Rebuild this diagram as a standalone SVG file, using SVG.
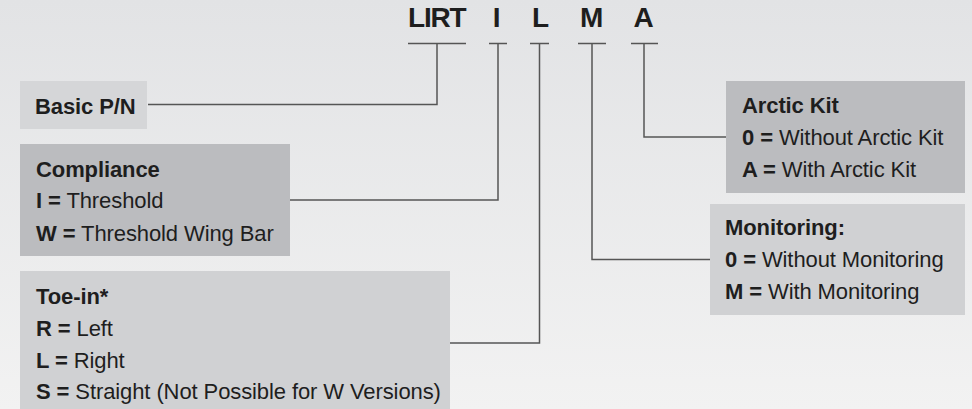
<svg xmlns="http://www.w3.org/2000/svg" width="972" height="409" viewBox="0 0 972 409">
<defs>
<linearGradient id="bg" x1="0" y1="0" x2="0" y2="1">
<stop offset="0" stop-color="#e2e3e5"/>
<stop offset="1" stop-color="#f2f2f2"/>
</linearGradient>
</defs>
<style>
text{font-family:"Liberation Sans",Arial,sans-serif;fill:#1e1e1e;}
.t{font-size:22px;letter-spacing:-0.1px;}
.b{font-weight:bold;}
.h{font-size:28px;font-weight:bold;letter-spacing:-1.2px;}
.light{fill:#d5d6d8;}
.dark{fill:#bbbcbf;}
.mid{fill:#d0d1d3;}
.ln{fill:none;stroke:#555;stroke-width:1.5;}
</style>
<rect width="972" height="409" fill="url(#bg)"/>
<g id="header">
<text class="h" x="408" y="27">LIRT</text>
<text class="h" x="496" y="27" text-anchor="middle">I</text>
<text class="h" x="540" y="27" text-anchor="middle">L</text>
<text class="h" x="591" y="27" text-anchor="middle">M</text>
<text class="h" x="643" y="27" text-anchor="middle">A</text>
</g>
<g id="basic">
<rect class="light" x="20" y="81" width="127" height="48"/>
<text class="t b" x="35" y="114">Basic P/N</text>
</g>
<g id="compliance">
<rect class="dark" x="20" y="144" width="270" height="112"/>
<text class="t b" x="36" y="177">Compliance</text>
<text class="t" x="36" y="208"><tspan class="b">I =</tspan> Threshold</text>
<text class="t" x="36" y="241"><tspan class="b">W =</tspan> Threshold Wing Bar</text>
</g>
<g id="toein">
<rect class="mid" x="20" y="271" width="430" height="138"/>
<text class="t b" x="36" y="304">Toe-in*</text>
<text class="t" x="36" y="336"><tspan class="b">R =</tspan> Left</text>
<text class="t" x="36" y="368"><tspan class="b">L =</tspan> Right</text>
<text class="t" x="36" y="399"><tspan class="b">S =</tspan> Straight (Not Possible for W Versions)</text>
</g>
<g id="arctic">
<rect class="dark" x="726" y="81" width="239" height="112"/>
<text class="t b" x="742" y="113">Arctic Kit</text>
<text class="t" x="742" y="145"><tspan class="b">0 =</tspan> Without Arctic Kit</text>
<text class="t" x="742" y="177"><tspan class="b">A =</tspan> With Arctic Kit</text>
</g>
<g id="monitoring">
<rect class="mid" x="710" y="204" width="255" height="111"/>
<text class="t b" x="725" y="235">Monitoring:</text>
<text class="t" x="725" y="267"><tspan class="b">0 =</tspan> Without Monitoring</text>
<text class="t" x="725" y="299"><tspan class="b">M =</tspan> With Monitoring</text>
</g>
<g id="connectors">
<path class="ln" d="M408 43.5H466M489 43.5H507M530 43.5H549M578 43.5H606M631 43.5H658"/>
<path class="ln" d="M437 43.5V104.5H148"/>
<path class="ln" d="M498 43.5V200H290"/>
<path class="ln" d="M539.5 43.5V343H450"/>
<path class="ln" d="M592 43.5V259.5H710"/>
<path class="ln" d="M644 43.5V137H726"/>
</g>
</svg>
